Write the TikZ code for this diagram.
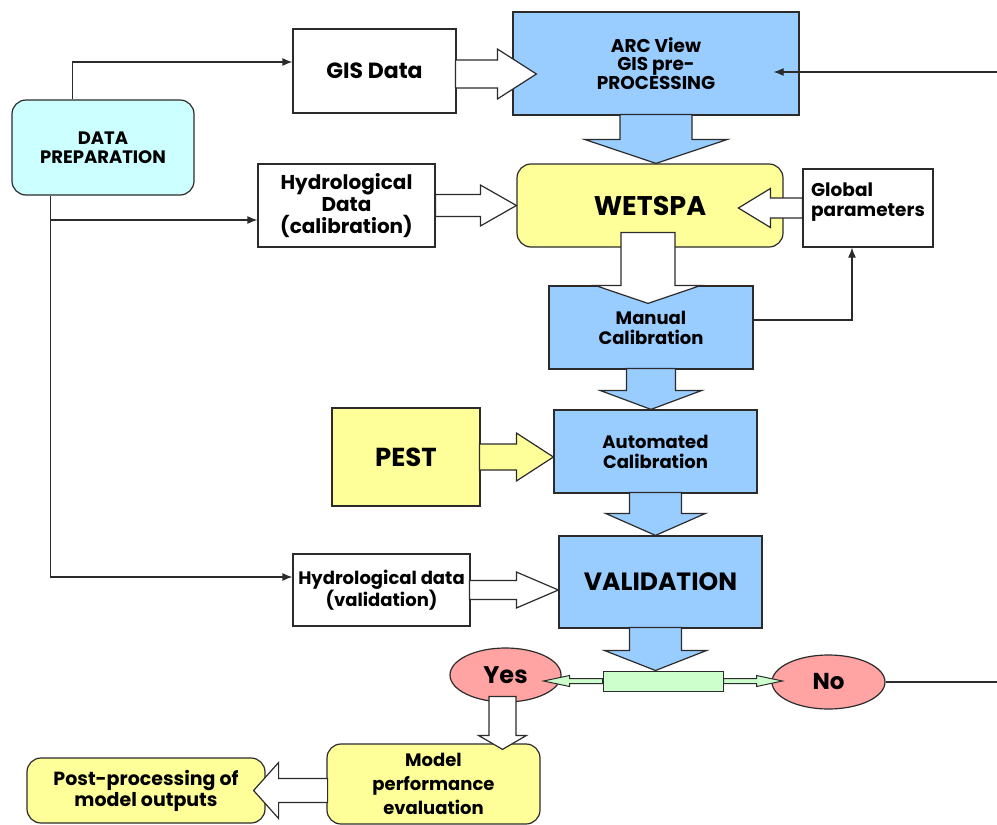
\documentclass[tikz,border=0pt]{standalone}
\usepackage{fontspec}
\setmainfont{Poppins}
\usetikzlibrary{calc,shapes.geometric,arrows.meta}
\definecolor{boxblue}{HTML}{99CCFF}
\definecolor{boxyellow}{HTML}{FFFF99}
\definecolor{boxcyan}{HTML}{CCFFFF}
\definecolor{yesno}{HTML}{FFA3A3}
\definecolor{switchgreen}{HTML}{CCFFCC}
\definecolor{edge}{HTML}{2B2B2B}
% fat arrow: [style]{tip}{angle}{length}{shaft half}{head half}{head length}
\newcommand{\blockarr}[7][]{%
  \draw[#1,shift={#2},rotate=#3] (0,0) -- (-#7,#6) -- (-#7,#5) -- (-#4,#5)
    -- (-#4,-#5) -- (-#7,-#5) -- (-#7,-#6) -- cycle;}
\begin{document}
\begin{tikzpicture}[
        x=1pt,y=-1pt,
        >={Latex[length=10pt,width=8pt]},
        box/.style={draw=edge,line width=1.2pt,align=center,inner sep=2pt,
          font=\bfseries\fontsize{18}{20}\selectfont},
        rbox/.style={box,rounded corners=14pt},
        line/.style={draw=edge,line width=1.2pt,->},
        hollow/.style={draw=edge,fill=white,line width=1.2pt},
        bluearr/.style={draw=edge,fill=boxblue,line width=1.2pt},
        yellowarr/.style={draw=edge,fill=boxyellow,line width=1.2pt},
        greenarr/.style={draw=edge,fill=switchgreen,line width=1pt},
        ]
        \useasboundingbox (0,0) rectangle (997,825);
        % boxes
        \node[rbox,fill=boxcyan,minimum width=182pt,minimum height=95pt,font=\bfseries\fontsize{18}{19}\selectfont] (prep) at (103,147.5) {DATA\\PREPARATION};
        \node[box,minimum width=163pt,minimum height=84pt,font=\bfseries\fontsize{22}{24}\selectfont] (gis) at (374.5,71) {GIS Data};
        \node[box,fill=boxblue,minimum width=286pt,minimum height=103pt,font=\bfseries\fontsize{18.5}{18}\selectfont] (arc) at (656,63.5) {ARC View\\GIS pre-\\PROCESSING};
        \node[box,minimum width=177pt,minimum height=83pt,font=\bfseries\fontsize{20}{22}\selectfont] (hydc) at (346.5,205.5) {Hydrological\\Data\\(calibration)};
        \node[rbox,fill=boxyellow,minimum width=266pt,minimum height=83pt,font=\bfseries\fontsize{27}{28}\selectfont] (wetspa) at (650,205.5) {WETSPA};
        \node[box,minimum width=130pt,minimum height=78pt,align=left,font=\bfseries\fontsize{18.5}{20}\selectfont] (glob) at (868,208) {Global\\parameters\\[-4pt]\mbox{}};
        \node[box,fill=boxblue,minimum width=204pt,minimum height=83pt] (man) at (651,327.5) {Manual\\Calibration};
        \node[box,fill=boxyellow,minimum width=148pt,minimum height=98pt,font=\bfseries\fontsize{26}{27}\selectfont] (pest) at (406,457) {PEST};
        \node[box,fill=boxblue,minimum width=203pt,minimum height=83pt] (auto) at (655.5,451.5) {Automated\\Calibration};
        \node[box,minimum width=177pt,minimum height=72pt,font=\bfseries\fontsize{18}{20}\selectfont] (hydv) at (381.5,590) {Hydrological data\\(validation)};
        \node[box,fill=boxblue,minimum width=203pt,minimum height=92pt,font=\bfseries\fontsize{25}{26}\selectfont] (valid) at (660.5,582) {VALIDATION};
        \node[box,ellipse,fill=yesno,minimum width=111pt,minimum height=54pt,font=\bfseries\fontsize{24}{24}\selectfont] (yes) at (505.5,675) {Yes};
        \node[box,ellipse,fill=yesno,minimum width=113pt,minimum height=54pt,font=\bfseries\fontsize{23}{24}\selectfont] (no) at (828.5,682) {No};
        \node[box,fill=switchgreen,minimum width=120pt,minimum height=20pt,line width=1pt] (dec) at (663,681) {};
        \node[rbox,fill=boxyellow,minimum width=213pt,minimum height=80pt,font=\bfseries\fontsize{18}{24}\selectfont] (model) at (433.5,784) {Model\\performance\\evaluation};
        \node[rbox,fill=boxyellow,minimum width=238pt,minimum height=65pt,font=\bfseries\fontsize{19}{21}\selectfont] (post) at (146,790.5) {Post-processing of\\model outputs};
        \coordinate (arcin) at (997,72);
        \coordinate (noout) at (997,682);
        % thin connectors
        \draw[line] ($(prep.north west)+(61,0)$) |- ($(gis.west)+(0,-9)$);
        \draw[line] ($(prep.south west)+(39,0)$) |- ($(hydv.west)+(0,-13)$);
        \draw[line] ($(prep.south west)+(39,25)$) |- ($(hydc.west)+(0,14.5)$);
        \draw[line] (arcin) -- ($(arc.east)+(-26,8.5)$);
        \draw[line] ($(man.east)+(0,-7.5)$) -| ($(glob.south)+(-16,0)$);
        \draw[line,-] (no.east) -- (noout);
        % fat arrows
        \blockarr[hollow]{($(arc.west)+(24,10.5)$)}{0}{81}{14}{25}{39}
        \blockarr[hollow]{(wetspa.west)}{0}{81}{11}{20.5}{36}
        \blockarr[bluearr]{(arc.south |- wetspa.north)}{-90}{49}{36}{71.5}{24}
        \blockarr[hollow]{($(glob.west)+(-64,0)$)}{180}{64}{10}{19.5}{32}
        \blockarr[hollow]{($(man.north)+(-3,18)$)}{-90}{71}{27}{53}{18}
        \blockarr[bluearr]{(man.south |- auto.north)}{-90}{41}{24.5}{51}{19}
        \blockarr[yellowarr]{(auto.west |- pest.east)}{0}{74}{13}{24}{37}
        \blockarr[bluearr]{(auto.south |- valid.north)}{-90}{43}{26}{50}{22}
        \blockarr[hollow]{(valid.west |- hydv.east)}{0}{89}{9.5}{18}{42}
        \blockarr[bluearr]{($(valid.south |- dec.north)+(-5,0)$)}{-90}{43}{26}{51}{20}
        \blockarr[greenarr]{($(dec.west)+(-59,0)$)}{180}{59}{2.5}{5.5}{26}
        \blockarr[greenarr]{($(dec.east)+(59,0)$)}{0}{59}{2.5}{5.5}{26}
        \blockarr[hollow]{($(yes.south |- model.north)+(-3,6)$)}{-90}{53}{13.5}{24}{14}
        \blockarr[hollow]{($(post.east)+(-12,0)$)}{180}{74}{12}{28}{25}
\end{tikzpicture}
\end{document}
